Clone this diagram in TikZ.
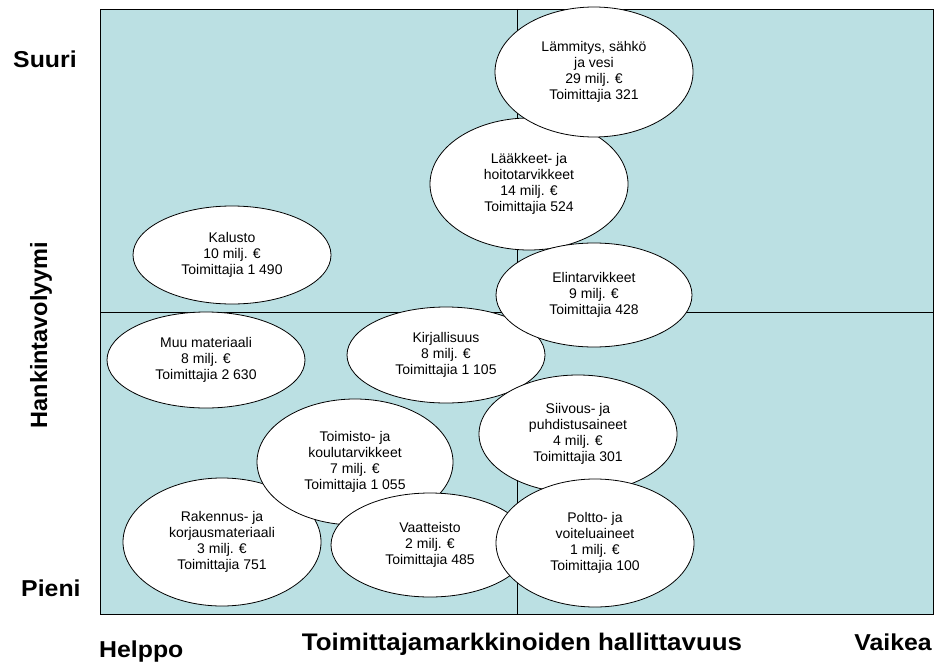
\documentclass[tikz,border=0pt]{standalone}
\usepackage{fontspec}
\setmainfont{Liberation Sans}
\usetikzlibrary{shapes.geometric}
\definecolor{quadfill}{RGB}{187,224,227}
\tikzset{
  bubble/.style={draw=black, line width=0.8pt, fill=white, ellipse, inner sep=0pt,
    align=center, font=\fontsize{14}{16}\selectfont},
  axislbl/.style={font=\fontsize{23}{26}\selectfont\bfseries, inner sep=0pt, anchor=base, xscale=1.08},
}
\begin{document}
\begin{tikzpicture}[x=1pt,y=-1pt]
\useasboundingbox (0,0) rectangle (944,661);
% frame
\node[draw=black, line width=1.4pt, fill=quadfill, minimum width=833pt, minimum height=605pt, inner sep=0pt, anchor=north west] (frame) at (100,9) {};
\coordinate (vtop) at (517,9);
\coordinate (vbot) at (517,614);
\coordinate (hl) at (100,312);
\coordinate (hr) at (933,312);
\draw[line width=0.8pt] (vtop) -- (vbot);
\draw[line width=0.8pt] (hl) -- (hr);
% bubbles (drawing order matters)
\node[bubble, minimum width=198pt, minimum height=132pt] (laak) at (529,184) {Lääkkeet- ja\\hoitotarvikkeet\\14 milj. €\\Toimittajia 524};
\node[bubble, minimum width=198pt, minimum height=130pt] (lamm) at (594,72) {Lämmitys, sähkö\\ja vesi\\29 milj. €\\Toimittajia 321};
\node[bubble, minimum width=198pt, minimum height=96pt] (kirj) at (446,355) {Kirjallisuus\\8 milj. €\\Toimittajia 1 105};
\node[bubble, minimum width=196pt, minimum height=104pt] (elin) at (594,295) {Elintarvikkeet\\9 milj. €\\Toimittajia 428};
\node[bubble, minimum width=198pt, minimum height=98pt] (kalu) at (232,255) {Kalusto\\10 milj. €\\Toimittajia 1 490};
\node[bubble, minimum width=198pt, minimum height=96pt] (muu) at (206,360) {Muu materiaali\\8 milj. €\\Toimittajia 2 630};
\node[bubble, minimum width=198pt, minimum height=128pt] (rak) at (222,542) {Rakennus- ja\\korjausmateriaali\\3 milj. €\\Toimittajia 751};
\node[bubble, minimum width=196pt, minimum height=126pt] (toim) at (355,462) {Toimisto- ja\\koulutarvikkeet\\7 milj. €\\Toimittajia 1 055};
\node[bubble, minimum width=198pt, minimum height=118pt] (siiv) at (578,434) {Siivous- ja\\puhdistusaineet\\4 milj. €\\Toimittajia 301};
\node[bubble, minimum width=198pt, minimum height=104pt] (vaat) at (430,545) {Vaatteisto\\2 milj. €\\Toimittajia 485};
\node[bubble, minimum width=198pt, minimum height=128pt] (polt) at (595,543) {Poltto- ja\\voiteluaineet\\1 milj. €\\Toimittajia 100};
% axis labels
\node[axislbl, anchor=base west] (suuri) at (13,67) {Suuri};
\node[axislbl, anchor=base west] (pieni) at (21,596) {Pieni};
\node[axislbl, anchor=base west] (helppo) at (99,657) {Helppo};
\node[axislbl, anchor=base east] (vaikea) at (932,650) {Vaikea};
\node[axislbl, font=\fontsize{24}{28}\selectfont\bfseries] (xlbl) at (522,650) {Toimittajamarkkinoiden hallittavuus};
\node[axislbl, xscale=1/1.08, rotate=90, font=\fontsize{23.5}{26}\selectfont\bfseries] (ylbl) at (47,335) {Hankintavolyymi};
\end{tikzpicture}
\end{document}
